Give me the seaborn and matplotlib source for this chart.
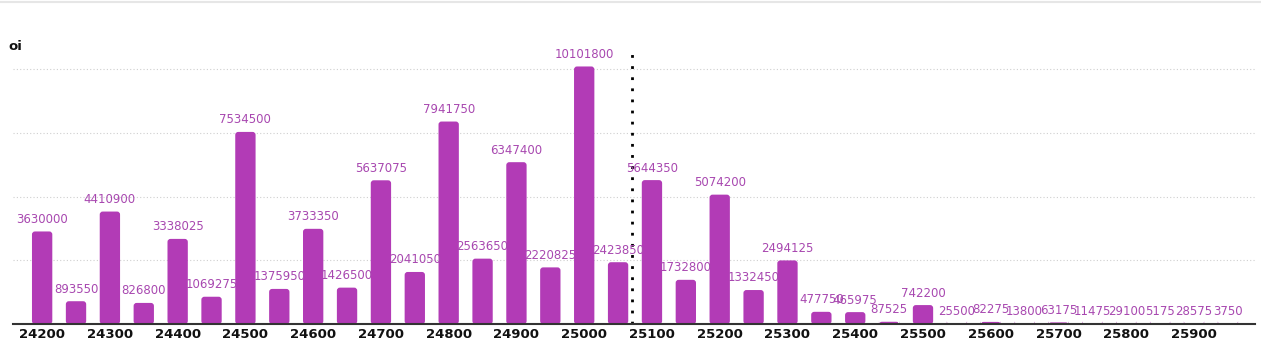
import matplotlib
matplotlib.use("Agg")
import matplotlib.pyplot as plt
from matplotlib.lines import Line2D
from matplotlib.patches import FancyBboxPatch
import seaborn as sns
import pandas as pd

strikes = [24200, 24250, 24300, 24350, 24400, 24450, 24500, 24550, 24600, 24650,
           24700, 24750, 24800, 24850, 24900, 24950, 25000, 25050, 25100, 25150,
           25200, 25250, 25300, 25350, 25400, 25450, 25500, 25550, 25600, 25650,
           25700, 25750, 25800, 25850, 25900, 25950]
oi = [3630000, 893550, 4410900, 826800, 3338025, 1069275, 7534500, 1375950, 3733350, 1426500,
      5637075, 2041050, 7941750, 2563650, 6347400, 2220825, 10101800, 2423850, 5644350, 1732800,
      5074200, 1332450, 2494125, 477750, 465975, 87525, 742200, 25500, 82275, 13800,
      63175, 11475, 29100, 5175, 28575, 3750]
tick_labels = [24200, 24300, 24400, 24500, 24600, 24700, 24800, 24900, 25000,
               25100, 25200, 25300, 25400, 25500, 25600, 25700, 25800, 25900]
spot = 25070
grid_values = [2500000, 5000000, 7500000, 10000000]

sns.set_theme(style="white")
plt.rcParams['font.family'] = ['DejaVu Sans']

bar_color = "#b23bb6"
label_color = "#a848b0"

fig = plt.figure(figsize=(12.61, 3.43), dpi=100)
ax = fig.add_axes([13/1261, 19/343, (1255-13)/1261, (324-40)/343])

df = pd.DataFrame({"strike": [str(s) for s in strikes], "oi": oi})
sns.barplot(data=df, x="strike", y="oi", color=bar_color, width=0.6,
            saturation=1, ax=ax, order=[str(s) for s in strikes])

ax.set_ylim(0, 11.14e6)
ax.set_xlim(-0.86, 35.8)

# rounded bar corners, derived from the bars seaborn drew
px_x = (35.8 + 0.86) / (1255 - 13)
px_y = 11.14e6 / (324 - 40)
radius = 3 * px_x
aspect = px_y / px_x
bars = list(ax.patches)
for p in bars:
    x, w, h = p.get_x(), p.get_width(), p.get_height()
    fb = FancyBboxPatch((x, 0), w, h,
                        boxstyle=f"round,pad=0,rounding_size={radius}",
                        mutation_aspect=aspect, facecolor=bar_color,
                        edgecolor="none", zorder=2)
    ax.add_patch(fb)
    p.set_visible(False)

for p, v in zip(bars, oi):
    ax.annotate(str(v), (p.get_x() + p.get_width()/2, p.get_height()),
                xytext=(0, 4), textcoords="offset points", ha="center", va="bottom",
                fontsize=8.5, color=label_color, zorder=4)

for g in grid_values:
    ax.axhline(g, color="#cfcfcf", linestyle=(0, (1, 2)), linewidth=0.8, zorder=0)

spot_pos = (spot - strikes[0]) / (strikes[1] - strikes[0])
ax.vlines(spot_pos, 0, 10.67e6, colors="black", linestyles=(0, (1, 3)), linewidth=2, zorder=3)

ax.set_xticks([strikes.index(t) for t in tick_labels])
ax.set_xticklabels([str(t) for t in tick_labels], fontweight="bold", fontsize=9.5, color="#111111")
ax.tick_params(axis="x", length=0, pad=3)
ax.set_yticks([])
ax.set_xlabel("")
ax.set_ylabel("")
for s in ["top", "right", "left"]:
    ax.spines[s].set_visible(False)
ax.spines["bottom"].set_color("#333333")
ax.spines["bottom"].set_linewidth(1.5)
ax.spines["bottom"].set_zorder(5)

fig.text(8/1261, 1 - 47/343, "oi", fontweight="bold", fontsize=9.5, va="center", ha="left", color="#111111")
fig.add_artist(Line2D([0, 1], [1 - 2/343, 1 - 2/343], transform=fig.transFigure, color="#e6e6e6", linewidth=1.5))

fig.savefig("out.png", dpi=100)
